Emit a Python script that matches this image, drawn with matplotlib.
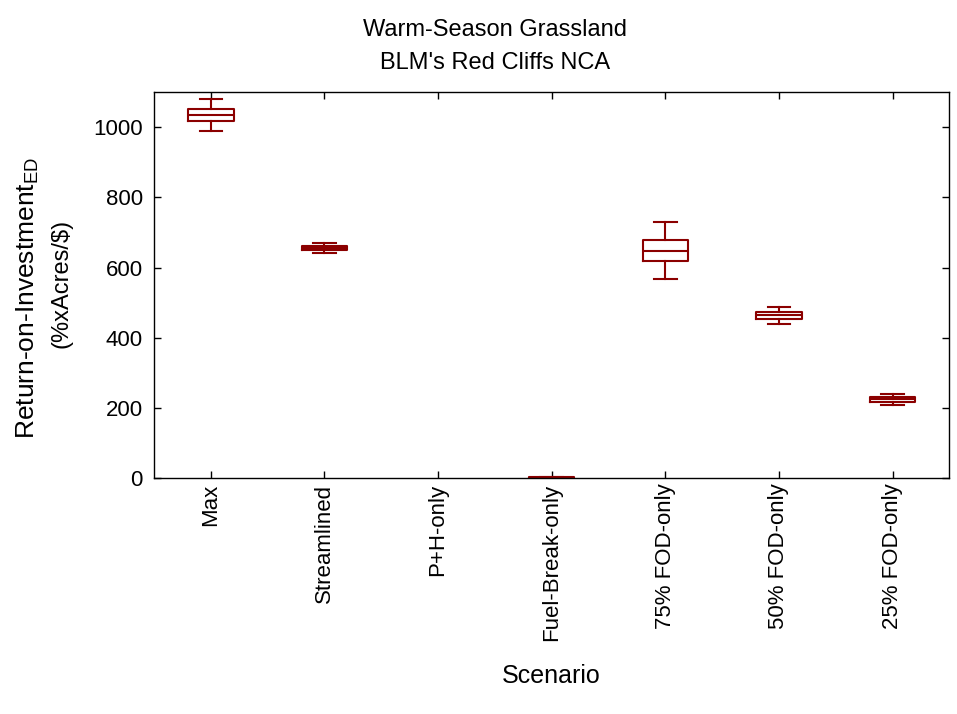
import numpy as np
import matplotlib
matplotlib.use("Agg")
import matplotlib.pyplot as plt

plt.rcParams['font.family'] = ['Liberation Sans', 'DejaVu Sans']

scenarios = ["Max", "Streamlined", "P+H-only", "Fuel-Break-only",
             "75% FOD-only", "50% FOD-only", "25% FOD-only"]
# box stats (None = no data)
whislo = [988, 641, None, 0, 567, 439, 208]
q1 = [1017, 650, None, 0, 618, 453, 217]
med = [1034, 655, None, 1, 647, 464, 224]
q3 = [1051, 661, None, 3, 678, 473, 231]
whishi = [1080, 670, None, 3, 729, 487, 239]

color = "#8b0000"

fig = plt.figure(figsize=(9.57, 7.14), dpi=100)
ax = fig.add_axes([0.161, 0.3305, 0.831, 0.5405])

stats = []
pos = []
for i, name in enumerate(scenarios):
    if med[i] is None:
        continue
    stats.append(dict(label=name, whislo=whislo[i], q1=q1[i], med=med[i],
                      q3=q3[i], whishi=whishi[i], fliers=[]))
    pos.append(i)

ax.bxp(stats, positions=pos, widths=0.4, showfliers=False,
       boxprops=dict(color=color, lw=1.5),
       medianprops=dict(color=color, lw=1.5),
       whiskerprops=dict(color=color, lw=1.5),
       capprops=dict(color=color, lw=1.5))

ax.set_xlim(-0.5, len(scenarios) - 0.5)
ax.set_ylim(0, 1100)
ax.set_xticks(range(len(scenarios)))
ax.set_xticklabels(scenarios, rotation=90, fontsize=16)
ax.set_yticks([0, 200, 400, 600, 800, 1000])
ax.tick_params(axis='y', labelsize=16, pad=8)
ax.tick_params(axis='x', pad=4)
ax.tick_params(direction='in', length=5, top=True, right=True, width=1)
for s in ax.spines.values():
    s.set_linewidth(1)

fig.text(495 / 957, 1 - 30 / 714, "Warm-Season Grassland", ha='center', va='center', fontsize=17)
fig.text(495 / 957, 1 - 63 / 714, "BLM's Red Cliffs NCA", ha='center', va='center', fontsize=17)
fig.text(551 / 957, 1 - 676 / 714, "Scenario", ha='center', va='center', fontsize=18)
fig.text(28 / 957, 1 - 298 / 714, "Return-on-Investment$_\\mathregular{ED}$", rotation=90,
         ha='center', va='center', fontsize=19)
fig.text(62 / 957, 1 - 283 / 714, "(%xAcres/$)", rotation=90,
         ha='center', va='center', fontsize=17)

fig.savefig("out.png", dpi=100)
